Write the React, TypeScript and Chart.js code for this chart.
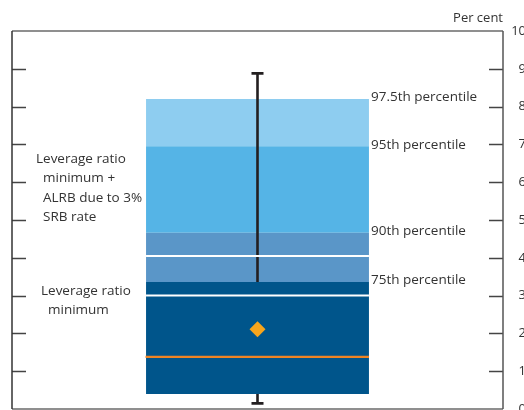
import React, { useEffect, useRef } from "react";
import { Chart, registerables } from "chart.js";

Chart.register(...registerables);

// ---- data ----
const categories = [""];
// percentile band edges (per cent)
const bandLabels = ["Bottom–75th", "75th–90th", "90th–95th", "95th–97.5th"];
const bandLow = [0.4, 3.36, 4.66, 6.95];
const bandHigh = [3.36, 4.66, 6.95, 8.2];
const bandColors = ["#00558B", "#5A96C8", "#55B4E6", "#8ECDF0"];
const whiskerLow = 0.15;
const whiskerHigh = 8.88;
const medianValue = 1.38;
const meanValue = 2.11;
const thresholdValues = [3.0, 4.05]; // leverage ratio minimum; + ALRB due to 3% SRB
const percentileLabels = ["97.5th percentile", "95th percentile", "90th percentile", "75th percentile"];
const percentileValues = [8.2, 6.95, 4.66, 3.36];
const yTicksMin = 0;
const yTicksMax = 10;
const yStep = 1;

const FONT = '"Open Sans", "Noto Sans", sans-serif';
const TEXT = "#333333";

const overlayPlugin = {
  id: "overlay",
  beforeDatasetsDraw(chart: any) {
    const ctx = chart.ctx;
    ctx.save();
    ctx.fillStyle = TEXT;
    ctx.font = `13.5px ${FONT}`;
    ctx.textBaseline = "middle";
    ctx.textAlign = "left";
    // left annotations
    const lines1: [string, number, number][] = [
      ["Leverage ratio", 36, 159],
      ["minimum +", 43, 178.5],
      ["ALRB due to 3%", 43, 198],
      ["SRB rate", 43, 217.5],
    ];
    const lines2: [string, number, number][] = [
      ["Leverage ratio", 41, 291.5],
      ["minimum", 48, 310.5],
    ];
    [...lines1, ...lines2].forEach(([t, x, y]) => ctx.fillText(t, x, y));
    ctx.restore();
  },
  afterDatasetsDraw(chart: any) {
    const ctx = chart.ctx;
    const y = chart.scales.y;
    const meta = chart.getDatasetMeta(0);
    const bar = meta.data[0];
    const cx = bar.x;
    const half = bar.width / 2;
    const left = cx - half;
    const right = cx + half;
    ctx.save();
    // whisker
    ctx.strokeStyle = "#231F20";
    ctx.lineWidth = 2.6;
    ctx.beginPath();
    ctx.moveTo(cx, y.getPixelForValue(whiskerHigh));
    ctx.lineTo(cx, y.getPixelForValue(bandHigh[0]));
    ctx.moveTo(cx, y.getPixelForValue(bandLow[0]));
    ctx.lineTo(cx, y.getPixelForValue(whiskerLow));
    ctx.stroke();
    ctx.lineWidth = 2.6;
    ctx.beginPath();
    [whiskerHigh, whiskerLow].forEach((v) => {
      const py = y.getPixelForValue(v);
      ctx.moveTo(cx - 6, py);
      ctx.lineTo(cx + 6, py);
    });
    ctx.stroke();
    // threshold white lines
    ctx.strokeStyle = "#FFFFFF";
    ctx.lineWidth = 2;
    ctx.beginPath();
    thresholdValues.forEach((v) => {
      const py = y.getPixelForValue(v);
      ctx.moveTo(left, py);
      ctx.lineTo(right, py);
    });
    ctx.stroke();
    // median orange line
    ctx.strokeStyle = "#EF8423";
    ctx.lineWidth = 2.4;
    ctx.beginPath();
    const my = y.getPixelForValue(medianValue);
    ctx.moveTo(left - 0.5, my);
    ctx.lineTo(right, my);
    ctx.stroke();
    // percentile labels
    ctx.fillStyle = TEXT;
    ctx.font = `13.5px ${FONT}`;
    ctx.textBaseline = "middle";
    ctx.textAlign = "left";
    percentileLabels.forEach((t, i) => {
      ctx.fillText(t, right + 2, y.getPixelForValue(percentileValues[i]) - 1.5);
    });
    ctx.restore();
  },
  afterDraw(chart: any) {
    const ctx = chart.ctx;
    const y = chart.scales.y;
    const { left, right, top, bottom } = chart.chartArea;
    ctx.save();
    ctx.lineWidth = 1.5;
    // ticks inside
    ctx.strokeStyle = "#444444";
    ctx.beginPath();
    y.ticks.forEach((t: any) => {
      if (t.value <= yTicksMin || t.value >= yTicksMax) return;
      const py = Math.round(y.getPixelForValue(t.value)) + 0.5;
      ctx.moveTo(left, py);
      ctx.lineTo(left + 14, py);
      ctx.moveTo(right - 14, py);
      ctx.lineTo(right, py);
    });
    ctx.stroke();
    // borders
    ctx.strokeStyle = "#6B6B6B";
    ctx.beginPath();
    ctx.moveTo(left, top);
    ctx.lineTo(right, top);
    ctx.moveTo(left, bottom);
    ctx.lineTo(right, bottom);
    ctx.stroke();
    ctx.strokeStyle = "#333333";
    ctx.beginPath();
    ctx.moveTo(left, top);
    ctx.lineTo(left, bottom);
    ctx.stroke();
    ctx.strokeStyle = "#555555";
    ctx.beginPath();
    ctx.moveTo(right, top);
    ctx.lineTo(right, bottom);
    ctx.stroke();
    // unit label
    ctx.fillStyle = TEXT;
    ctx.font = `13px ${FONT}`;
    ctx.textAlign = "right";
    ctx.textBaseline = "middle";
    ctx.fillText("Per cent", right, 18);
    ctx.restore();
  },
};

export default function App() {
  const ref = useRef<HTMLCanvasElement | null>(null);
  useEffect(() => {
    document.body.style.margin = "0";
    const canvas = ref.current;
    if (!canvas) return;
    const datasets: any[] = bandLabels.map((label, i) => ({
      type: "bar",
      label,
      data: [[bandLow[i], bandHigh[i]]],
      backgroundColor: bandColors[i],
      borderWidth: 0,
      grouped: false,
      categoryPercentage: 1,
      barPercentage: 0.454,
      order: 2,
    }));
    datasets.push({
      type: "line",
      label: "Mean",
      data: [meanValue],
      showLine: false,
      pointStyle: "rectRot",
      pointRadius: 8,
      pointBackgroundColor: "#F7A51C",
      pointBorderWidth: 0,
      order: 1,
    });
    const chart = new Chart(canvas, {
      type: "bar",
      data: { labels: categories, datasets },
      options: {
        animation: false,
        responsive: false,
        devicePixelRatio: 1,
        layout: { autoPadding: false, padding: { left: 12, top: 31, right: 14, bottom: 1 } },
        plugins: { legend: { display: false }, tooltip: { enabled: false } },
        scales: {
          x: { display: false, offset: true },
          y: {
            position: "right",
            min: yTicksMin,
            max: yTicksMax,
            ticks: {
              stepSize: yStep,
              padding: 8,
              crossAlign: "far",
              color: TEXT,
              font: { family: FONT, size: 13 },
            },
            grid: { display: false, drawTicks: false },
            border: { display: false },
            afterFit: (scale: any) => {
              scale.width = 23;
              scale.paddingTop = 0;
              scale.paddingBottom = 0;
            },
          },
        },
      },
      plugins: [overlayPlugin],
    } as any);
    return () => chart.destroy();
  }, []);
  return (
    <div style={{ width: 524, height: 410, overflow: "hidden", position: "relative", background: "#fff" }}>
      <canvas ref={ref} width={540} height={410} style={{ display: "block" }} />
    </div>
  );
}
